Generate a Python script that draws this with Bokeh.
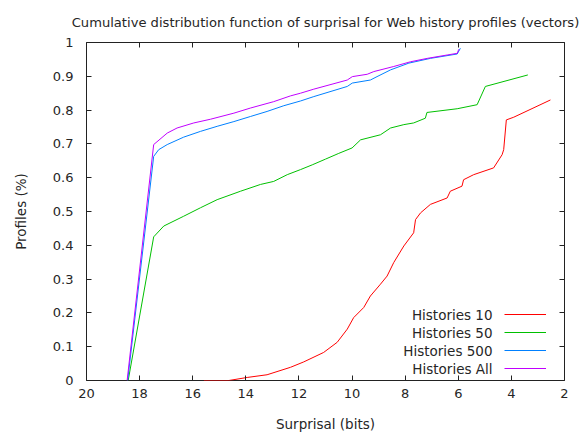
from bokeh.plotting import figure
from bokeh.models import (Range1d, FixedTicker, LinearAxis, CustomJSTickFormatter,
                          Legend, LegendItem, Label)
from bokeh.embed import file_html
from bokeh.resources import INLINE

# ---- data ----
x_ticks = [20, 18, 16, 14, 12, 10, 8, 6, 4, 2]
y_ticks = [0, 0.1, 0.2, 0.3, 0.4, 0.5, 0.6, 0.7, 0.8, 0.9, 1.0]

h10_x = [15.58, 14.64, 13.95, 13.20, 12.32, 11.82, 11.07, 10.56, 10.18, 9.94, 9.56, 9.31,
         8.93, 8.68, 8.43, 8.05, 7.68, 7.61, 7.42, 7.05, 6.42, 6.30, 5.86, 5.80, 5.42,
         4.67, 4.35, 4.29, 4.19, 3.91, 2.53]
h10_y = [0.0, 0.0, 0.009, 0.017, 0.039, 0.055, 0.083, 0.113, 0.152, 0.186, 0.216, 0.250,
         0.285, 0.309, 0.349, 0.398, 0.437, 0.476, 0.496, 0.521, 0.540, 0.560, 0.575, 0.594,
         0.609, 0.629, 0.668, 0.683, 0.771, 0.779, 0.830]

h50_x = [18.43, 17.47, 17.09, 16.34, 15.71, 15.08, 14.20, 13.45, 12.95, 12.44, 11.94, 11.5,
         11.0, 10.5, 10.0, 9.68, 8.93, 8.55, 8.05, 7.68, 7.24, 7.18, 6.04, 5.29, 4.98, 3.38]
h50_y = [0.0, 0.425, 0.457, 0.486, 0.511, 0.535, 0.560, 0.580, 0.589, 0.609, 0.624, 0.638,
         0.655, 0.672, 0.688, 0.712, 0.727, 0.747, 0.757, 0.762, 0.776, 0.793, 0.804, 0.816,
         0.870, 0.904]

h500_x = [18.45, 17.47, 17.28, 16.96, 16.34, 15.71, 15.08, 14.45, 13.83, 13.20, 12.57, 11.94,
          11.44, 10.18, 9.99, 9.31, 9.06, 8.55, 7.86, 7.05, 6.04, 5.92]
h500_y = [0.0, 0.663, 0.683, 0.698, 0.720, 0.737, 0.752, 0.766, 0.781, 0.796, 0.813, 0.827,
          0.840, 0.870, 0.880, 0.889, 0.899, 0.919, 0.939, 0.953, 0.966, 0.983]

hall_x = [18.47, 17.47, 16.96, 16.59, 15.96, 15.33, 14.45, 13.83, 12.95, 12.32, 11.94, 11.44,
          10.18, 9.99, 9.43, 9.18, 8.43, 7.80, 7.17, 6.42, 6.04, 5.98]
hall_y = [0.0, 0.698, 0.732, 0.747, 0.762, 0.773, 0.791, 0.806, 0.825, 0.842, 0.850, 0.862,
          0.889, 0.899, 0.906, 0.914, 0.929, 0.943, 0.953, 0.963, 0.968, 0.980]

series_names = ["Histories 10", "Histories 50", "Histories 500", "Histories All"]
series_x = [h10_x, h50_x, h500_x, hall_x]
series_y = [h10_y, h50_y, h500_y, hall_y]
series_colors = ["#ff0000", "#00c000", "#0080ff", "#c000ff"]
title_text = "Cumulative distribution function of surprisal for Web history profiles (vectors)"

FONT = "DejaVu Sans"
TXT = "#262626"
LINE = "#222222"

p = figure(width=579, height=434, x_range=Range1d(20, 2), y_range=Range1d(0, 1),
           output_backend="svg", toolbar_location=None,
           min_border_left=86, min_border_right=15, min_border_top=42, min_border_bottom=52,
           title=title_text)

p.title.align = "center"
p.title.text_font = FONT
p.title.text_font_size = "13.1px"
p.title.text_font_style = "normal"
p.title.text_color = TXT
p.title.standoff = 25

p.grid.visible = False
p.outline_line_color = LINE
p.outline_line_width = 1
p.background_fill_color = "white"
p.border_fill_color = "white"

p.xaxis.ticker = FixedTicker(ticks=x_ticks)
p.yaxis.ticker = FixedTicker(ticks=y_ticks)
p.yaxis.formatter = CustomJSTickFormatter(code="return tick.toFixed(1).replace(/\\.0$/, '');")
p.xaxis.axis_label = "Surprisal (bits)"
p.yaxis.axis_label = "Profiles (%)"

for ax in (p.xaxis[0], p.yaxis[0]):
    ax.axis_line_color = None
    ax.major_tick_in = 5
    ax.major_tick_out = 0
    ax.major_tick_line_color = LINE
    ax.minor_tick_line_color = None
    ax.major_label_text_font = FONT
    ax.major_label_text_font_size = "13px"
    ax.major_label_text_color = TXT
    ax.axis_label_text_font = FONT
    ax.axis_label_text_font_size = "13.5px"
    ax.axis_label_text_font_style = "normal"
    ax.axis_label_text_color = TXT

p.xaxis.major_label_standoff = 8
p.xaxis.axis_label_standoff = 15
p.yaxis.major_label_standoff = 13
p.yaxis.axis_label_standoff = 21

blank = "return '';"
top_ax = LinearAxis(ticker=FixedTicker(ticks=x_ticks), formatter=CustomJSTickFormatter(code=blank),
                    axis_line_color=None, major_tick_in=5, major_tick_out=0,
                    major_tick_line_color=LINE, minor_tick_line_color=None,
                    major_label_standoff=0, major_label_text_font_size="1px")
right_ax = LinearAxis(ticker=FixedTicker(ticks=y_ticks), formatter=CustomJSTickFormatter(code=blank),
                      axis_line_color=None, major_tick_in=5, major_tick_out=0,
                      major_tick_line_color=LINE, minor_tick_line_color=None,
                      major_label_standoff=0, major_label_text_font_size="1px")
p.add_layout(top_ax, "above")
p.add_layout(right_ax, "right")

items = []
for xs, ys, col in zip(series_x, series_y, series_colors):
    r = p.line(xs, ys, line_color=col, line_width=1)
    items.append(LegendItem(label=" ", renderers=[r]))

# gnuplot-style key: line samples on the right, right-aligned texts on the left
legend = Legend(items=items, location=(418, 3), orientation="vertical",
                glyph_width=42, glyph_height=18, label_height=18, label_width=1, spacing=0,
                label_standoff=0, label_text_font_size="1px",
                padding=0, margin=0, border_line_color=None, background_fill_alpha=0)
p.add_layout(legend, "center")

row_y = [66, 48, 30, 12]
for name, yy in zip(series_names, row_y):
    p.add_layout(Label(x=406, y=yy, x_units="screen", y_units="screen", text=name,
                       text_align="right", text_baseline="middle",
                       text_font=FONT, text_font_size="13.5px", text_color=TXT))

open("out.html", "w").write(file_html(p, INLINE))
